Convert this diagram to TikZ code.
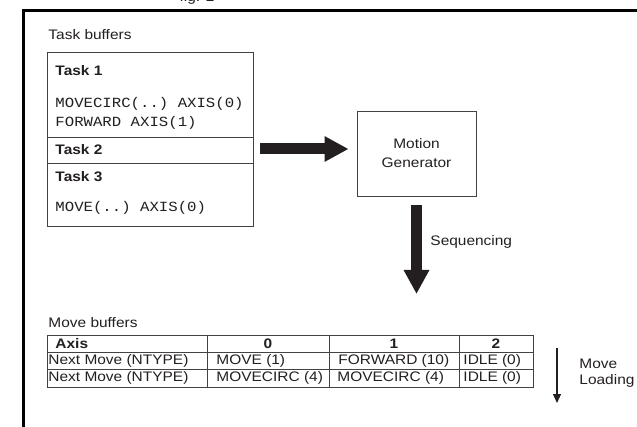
\documentclass[tikz,border=0pt]{standalone}
\usepackage{fontspec}
\setmainfont{Liberation Sans}[FakeStretch=1.12]
\setmonofont{Liberation Mono}[FakeStretch=1.12]
\usetikzlibrary{arrows.meta}
\definecolor{ink}{HTML}{231F20}
\begin{document}
\begin{tikzpicture}[x=1pt,y=-1pt,font=\fontsize{13.8}{19}\selectfont,text=ink,line width=0.9pt,
	txt/.style={anchor=west,inner sep=0pt},
	code/.style={anchor=west,inner sep=0pt,font=\ttfamily\fontsize{14}{19}\selectfont},
	bigarrow/.style={draw=ink,line width=11pt,-{Triangle[width=24pt,length=24pt]}}]
	\fill[white] (0,0) rectangle (637,427);
	\useasboundingbox (0,0) rectangle (637,427);
	\node (fig) at (197,1.5)	[anchor=base]	{fig. 2};
	% frame
	\fill[black] (22,9) rectangle (637,12);
	\fill[black] (22,9) rectangle (25,427);
	% task buffers
	\node (TB) at (48,35)	[txt]	{Task buffers};
	\draw[draw=ink!85] (47,52) rectangle (253,226);
	\draw[draw=ink!85] (47,137.5) -- (253,137.5);
	\draw[draw=ink!85] (47,163) -- (253,163);
	\node (T1) at (55,71)	[txt]	{\bfseries Task 1};
	\node (C1) at (55,104)	[code]	{MOVECIRC(..) AXIS(0)};
	\node (C2) at (55,123)	[code]	{FORWARD AXIS(1)};
	\node (T2) at (55,150)	[txt]	{\bfseries Task 2};
	\node (T3) at (55,177)	[txt]	{\bfseries Task 3};
	\node (C3) at (55,208)	[code]	{MOVE(..) AXIS(0)};
	% motion generator
	\node (MG) at (416.5,153.5)	[draw=ink!85, minimum width=119pt, minimum height=85pt, align=center]	{Motion\\Generator};
	\coordinate (T2E) at (253,149);
	\coordinate (SQ) at (416.5,294);
	\draw[bigarrow, shorten <=7pt, shorten >=8pt] (T2E) -- (T2E -| MG.west);
	\draw[bigarrow, shorten <=9pt] (MG.south) -- (SQ);
	\node (S) at (430,242)	[txt]	{Sequencing};
	% move buffers
	\node (MB) at (48,323)	[txt]	{Move buffers};
	\draw[draw=ink!85] (47,335) rectangle (533,387);
	\draw[draw=ink!85] (47,352) -- (533,352);
	\draw[draw=ink!85] (47,369.5) -- (533,369.5);
	\draw[draw=ink!85] (207,335) -- (207,387);
	\draw[draw=ink!85] (329,335) -- (329,387);
	\draw[draw=ink!85] (459,335) -- (459,387);
	\node (A0) at (55,343.5)	[txt]	{\bfseries Axis};
	\node (A1) at (268,343.5)	[inner sep=0pt]	{\bfseries 0};
	\node (A2) at (394,343.5)	[inner sep=0pt]	{\bfseries 1};
	\node (A3) at (496,343.5)	[inner sep=0pt]	{\bfseries 2};
	\node (N0) at (48,360.5)	[txt]	{Next Move (NTYPE)};
	\node (N1) at (216,360.5)	[txt]	{MOVE (1)};
	\node (N2) at (338,360.5)	[txt]	{FORWARD (10)};
	\node (N3) at (463,360.5)	[txt]	{IDLE (0)};
	\node (M0) at (48,378)	[txt]	{Next Move (NTYPE)};
	\node (M1) at (216,378)	[txt]	{MOVECIRC (4)};
	\node (M2) at (337,378)	[txt]	{MOVECIRC (4)};
	\node (M3) at (463,378)	[txt]	{IDLE (0)};
	\coordinate (L1) at (557,348);
	\coordinate (L2) at (557,403);
	\draw[draw=ink, line width=1.2pt, -{Triangle[width=8pt,length=9pt]}] (L1) -- (L2);
	\node (ML) at (579,373)	[txt, align=left, font=\fontsize{13.8}{16}\selectfont]	{Move\\Loading};
\end{tikzpicture}
\end{document}
